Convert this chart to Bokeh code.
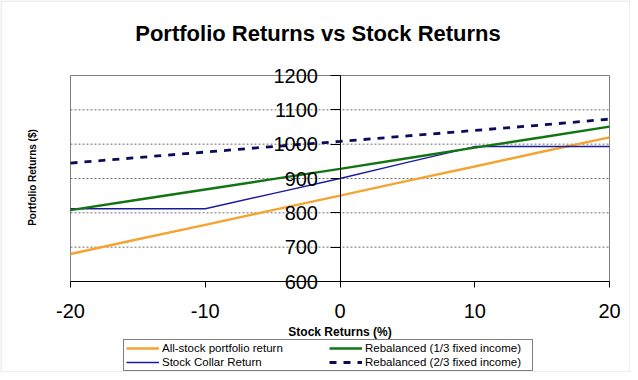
import math
from bokeh.plotting import figure
from bokeh.models import (FixedTicker, Legend, LegendItem, Range1d, Label, BoxAnnotation)
from bokeh.embed import file_html
from bokeh.resources import INLINE

# ---- data ----
stock_returns = [-20, -15, -10, -5, 0, 5, 10, 15, 20]
all_stock = [680, 723, 765, 808, 850, 893, 935, 978, 1020]
rebal_13 = [808, 838, 868, 898, 928, 959, 990, 1020, 1051]
collar = [812, 812, 812, 856, 900, 947, 993, 993, 993]
rebal_23 = [945, 961, 977, 993, 1008, 1024, 1040, 1056, 1073]
x_ticks = [-20, -10, 0, 10, 20]
x_tick_labels = ["-20", "-10", "0", "10", "20"]
y_ticks = [600, 700, 800, 900, 1000, 1100, 1200]

FONT = "Liberation Sans"
W, H = 630, 372
# pixel box of the plot area inside the canvas
PX_L, PX_R, PX_T, PX_B = 70, 609, 75, 281

x0, x1 = x_ticks[0], x_ticks[-1]
y0, y1 = y_ticks[0], y_ticks[-1]
xpp = (x1 - x0) / (PX_R - PX_L)
ypp = (y1 - y0) / (PX_B - PX_T)
xr = Range1d(x0 - PX_L * xpp, x1 + (W - PX_R) * xpp)
yr = Range1d(y0 - (H - PX_B) * ypp, y1 + PX_T * ypp)

p = figure(width=W, height=H, output_backend="svg", toolbar_location=None,
           x_range=xr, y_range=yr, title=None,
           min_border_left=0, min_border_right=0, min_border_top=0, min_border_bottom=0)
p.background_fill_color = "white"
p.border_fill_color = "white"
p.outline_line_color = None
p.xgrid.visible = False
p.ygrid.visible = False

# outer chart border
p.add_layout(BoxAnnotation(left=0.5, right=W - 0.5, bottom=0.5, top=H - 0.5,
                           left_units="screen", right_units="screen",
                           bottom_units="screen", top_units="screen",
                           fill_color=None, line_color="#8a8a8a", line_width=1,
                           level="underlay"))

# plot-area border and dotted grid
p.quad(left=[x0], right=[x1], bottom=[y0], top=[y1], fill_color=None,
       line_color="#808080", line_width=1)
gy = y_ticks[1:-1]
p.segment(x0=[x0] * len(gy), x1=[x1] * len(gy), y0=gy, y1=gy,
          line_color="#6e6e6e", line_width=1, line_dash="2 2")

# lines
r1 = p.line(stock_returns, all_stock, line_color="#F4A431", line_width=2.4)
r2 = p.line(stock_returns, collar, line_color="#1A1AA0", line_width=1.4)
r3 = p.line(stock_returns, rebal_13, line_color="#137413", line_width=2.4)
r4 = p.line(stock_returns, rebal_23, line_color="#0B0B5C", line_width=2.8, line_dash="7 7")

# x axis along y = 600
xa = p.xaxis[0]
xa.fixed_location = y0
xa.bounds = (x0, x1)
xa.ticker = FixedTicker(ticks=x_ticks)
xa.major_label_overrides = dict(zip(x_ticks, x_tick_labels))
xa.axis_line_color = "black"
xa.major_tick_line_color = "black"
xa.major_tick_out = 6
xa.major_tick_in = 0
xa.minor_tick_line_color = None
xa.major_label_text_font = FONT
xa.major_label_text_font_size = "20px"
xa.major_label_text_color = "black"
xa.major_label_standoff = 16
xa.axis_label = "Stock Returns (%)"
xa.axis_label_text_font = FONT
xa.axis_label_text_font_size = "12px"
xa.axis_label_text_font_style = "bold"
xa.axis_label_text_color = "black"
xa.axis_label_standoff = 4

# y axis along x = 0
ya = p.yaxis[0]
ya.fixed_location = 0
ya.bounds = (y0, y1)
ya.ticker = FixedTicker(ticks=y_ticks)
ya.axis_line_color = "black"
ya.major_tick_line_color = "black"
ya.major_tick_out = 10
ya.major_tick_in = 0
ya.minor_tick_line_color = None
ya.major_label_text_font = FONT
ya.major_label_text_font_size = "20px"
ya.major_label_text_color = "black"
ya.major_label_standoff = 12

# titles
p.add_layout(Label(x=317.5, y=H - 32.5, x_units="screen", y_units="screen",
                   text="Portfolio Returns vs Stock Returns", text_font=FONT,
                   text_font_size="22px", text_font_style="bold", text_color="black",
                   text_align="center", text_baseline="alphabetic"))
p.add_layout(Label(x=32, y=H - 177, x_units="screen", y_units="screen",
                   text="Portfolio Returns ($)", text_font=FONT, angle=math.pi / 2,
                   text_font_size="10px", text_font_style="bold", text_color="black",
                   text_align="center", text_baseline="middle"))

legend = Legend(items=[
    LegendItem(label="All-stock portfolio return", renderers=[r1]),
    LegendItem(label="Stock Collar Return", renderers=[r2]),
    LegendItem(label="Rebalanced (1/3 fixed income)", renderers=[r3]),
    LegendItem(label="Rebalanced (2/3 fixed income)", renderers=[r4]),
], ncols=2, location=(123, 1), margin=0, padding=2, spacing=2,
    glyph_width=33, glyph_height=12, label_width=165, label_height=12, label_standoff=3,
    label_text_font=FONT, label_text_font_size="11.5px", label_text_color="black",
    label_text_baseline="middle",
    border_line_color="black", border_line_width=1, background_fill_color="white")
p.add_layout(legend, "center")

open("out.html", "w").write(file_html(p, INLINE))
